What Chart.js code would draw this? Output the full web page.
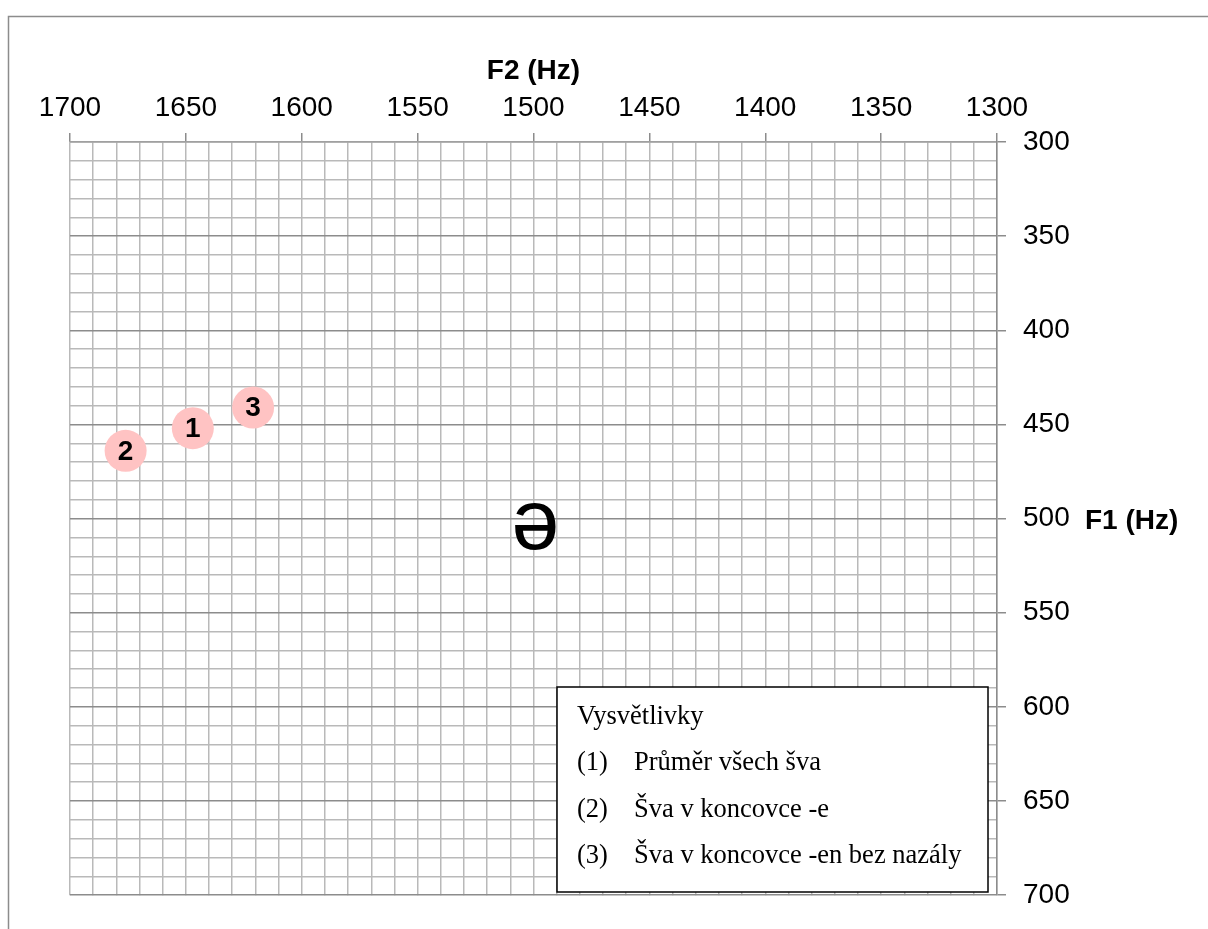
<!DOCTYPE html>
<html>
<head>
<meta charset="utf-8">
<title>F1/F2 šva</title>
<script src="https://cdn.jsdelivr.net/npm/chart.js@4.4.1/dist/chart.umd.min.js"></script>
<style>
  html, body { margin: 0; padding: 0; background: #fff; }
  #chart { display: block; }
</style>
</head>
<body>
<canvas id="chart" width="1208" height="929"></canvas>
<script>
// measured vowel positions (F2 horizontal, F1 vertical)
const pointLabels = ['1', '2', '3'];
const f2Values = [1647, 1676, 1621];
const f1Values = [452, 464, 441];

// legend text box
const legendTitle = 'Vysvětlivky';
const legendNumbers = ['(1)', '(2)', '(3)'];
const legendTexts = ['Průměr všech šva', 'Šva v koncovce -e', 'Šva v koncovce -en bez nazály'];

// reference vowel symbol
const vowelSymbols = ['ə'];
const vowelF2 = [1500];
const vowelF1 = [500];

// axis ranges
const f2Min = 1300, f2Max = 1700;
const f1Min = 300, f1Max = 700;
const gridStep = 10;
const labelStep = 50;

Chart.defaults.font.family = '"Liberation Sans", Arial, sans-serif';
Chart.defaults.color = '#000';

const isMajor = ctx => ctx.tick && ctx.tick.value % labelStep === 0;

// outer frame, labels on the markers, the F1 title and the text box
const decorations = {
    id: 'decorations',
    beforeDraw(chart) {
        const c = chart.ctx;
        c.save();
        c.fillStyle = '#fff';
        c.fillRect(0, 0, chart.width, chart.height);
        c.strokeStyle = '#8c8c8c';
        c.lineWidth = 1.5;
        c.strokeRect(8.5, 16.5, chart.width + 20, chart.height + 20);
        c.restore();
    },
    afterDatasetsDraw(chart) {
        const c = chart.ctx;
        c.save();
        c.fillStyle = '#000';
        c.textAlign = 'center';

        chart.getDatasetMeta(0).data.forEach((pt, i) => {
            c.font = 'bold 28px "Liberation Sans", Arial, sans-serif';
            c.textBaseline = 'middle';
            c.fillText(pointLabels[i], pt.x, pt.y + 1);
        });

        chart.getDatasetMeta(1).data.forEach((pt, i) => {
            c.font = '86px "Liberation Sans", "DejaVu Sans", sans-serif';
            c.textBaseline = 'alphabetic';
            c.fillText(vowelSymbols[i], pt.x + 2, pt.y + 30);
        });

        // F1 axis title, level with the 500 tick
        const y = chart.scales.y;
        c.font = 'bold 28px "Liberation Sans", Arial, sans-serif';
        c.textAlign = 'left';
        c.textBaseline = 'middle';
        c.fillText('F1 (Hz)', 1085, y.getPixelForValue(500) + 3);

        // text box
        const bx = 557, by = 687, bw = 431, bh = 205;
        c.fillStyle = '#fff';
        c.fillRect(bx, by, bw, bh);
        c.strokeStyle = '#000';
        c.lineWidth = 1.5;
        c.strokeRect(bx, by, bw, bh);

        c.fillStyle = '#000';
        c.font = '26.5px "Liberation Serif", "Times New Roman", serif';
        c.textBaseline = 'alphabetic';
        c.fillText(legendTitle, 577, 724);
        legendTexts.forEach((t, i) => {
            const ly = 770 + i * 46.5;
            c.fillText(legendNumbers[i], 577, ly);
            c.fillText(t, 634, ly);
        });
        c.restore();
    }
};

new Chart(document.getElementById('chart'), {
    type: 'scatter',
    data: {
        datasets: [
            {
                label: 'šva',
                data: f2Values.map((v, i) => ({ x: v, y: f1Values[i] })),
                pointRadius: 21,
                pointBackgroundColor: '#ffc3c3',
                pointBorderWidth: 0
            },
            {
                label: 'vokál',
                data: vowelF2.map((v, i) => ({ x: v, y: vowelF1[i] })),
                pointRadius: 0
            }
        ]
    },
    options: {
        responsive: false,
        animation: false,
        events: [],
        layout: { padding: { left: 70, top: 0, right: 0, bottom: 21 } },
        plugins: {
            legend: { display: false },
            tooltip: { enabled: false }
        },
        scales: {
            x: {
                type: 'linear',
                position: 'top',
                reverse: true,
                min: f2Min,
                max: f2Max,
                afterFit: s => { s.height = 142; },
                title: {
                    display: true,
                    text: 'F2 (Hz)',
                    font: { size: 28, weight: 'bold' },
                    padding: { top: 54, bottom: 0 }
                },
                ticks: {
                    stepSize: gridStep,
                    autoSkip: false,
                    maxRotation: 0,
                    padding: 8,
                    font: { size: 28 },
                    callback: v => (v % labelStep === 0 ? String(v) : '')
                },
                grid: {
                    color: '#b9b9b9',
                    lineWidth: 1.5,
                    tickLength: 9,
                    tickColor: ctx => (isMajor(ctx) ? '#8c8c8c' : 'rgba(0,0,0,0)'),
                    tickWidth: 1.5
                },
                border: { color: '#a0a0a0', width: 1.5 }
            },
            y: {
                type: 'linear',
                position: 'right',
                reverse: true,
                min: f1Min,
                max: f1Max,
                afterFit: s => { s.width = 211; },
                ticks: {
                    stepSize: gridStep,
                    autoSkip: false,
                    padding: 17,
                    font: { size: 28 },
                    callback: v => (v % labelStep === 0 ? String(v) : '')
                },
                grid: {
                    color: ctx => (isMajor(ctx) ? '#8c8c8c' : '#b9b9b9'),
                    lineWidth: 1.5,
                    tickLength: 9,
                    tickColor: ctx => (isMajor(ctx) ? '#8c8c8c' : 'rgba(0,0,0,0)'),
                    tickWidth: 1.5
                },
                border: { color: '#8c8c8c', width: 1.5 }
            }
        }
    },
    plugins: [decorations]
});
</script>
</body>
</html>
